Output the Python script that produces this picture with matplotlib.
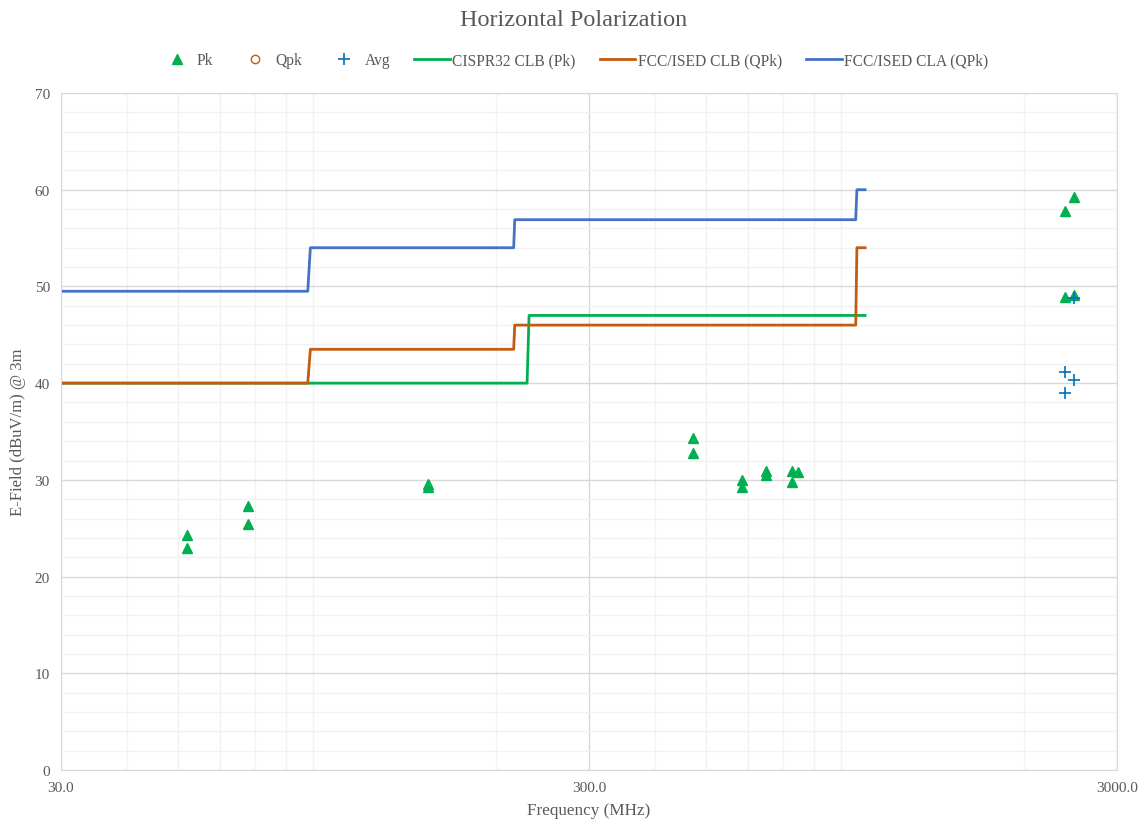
import numpy as np
import matplotlib
matplotlib.use("Agg")
import matplotlib.pyplot as plt
from matplotlib.ticker import FixedLocator, NullFormatter, MultipleLocator

plt.rcParams['font.family'] = ['Liberation Serif', 'DejaVu Serif']

# measured points
pk_freq = [51.9, 51.9, 67.7, 67.7, 148.9, 148.9, 471.6, 471.6, 583.8, 583.8,
           648.4, 648.4, 726, 726, 747, 2395, 2395, 2491, 2491]
pk_val = [24.3, 23.0, 27.3, 25.4, 29.6, 29.3, 34.3, 32.8, 30.0, 29.3,
          30.9, 30.5, 30.9, 29.8, 30.8, 57.8, 48.9, 59.2, 49.1]
qpk_freq = []
qpk_val = []
avg_freq = [2395, 2491, 2395, 2491]
avg_val = [41.2, 40.3, 39.0, 48.8]

# limit lines
cispr_freq = [30, 229, 231, 1000]
cispr_val = [40, 40, 47, 47]
fcc_b_freq = [30, 88, 89, 216, 217, 960, 965, 1000]
fcc_b_val = [40, 40, 43.5, 43.5, 46, 46, 54, 54]
fcc_a_freq = [30, 88, 89, 216, 217, 960, 965, 1000]
fcc_a_val = [49.5, 49.5, 54, 54, 56.9, 56.9, 60, 60]

green = "#00b050"
orange = "#c55a11"
blue = "#4472c4"
avg_blue = "#0070c0"
txt = "#595959"

fig = plt.figure(figsize=(11.47, 8.29), dpi=100)
ax = fig.add_axes([61/1147, 1 - 771/829, (1117-61)/1147, (771-94)/829])

ax.plot(pk_freq, pk_val, linestyle="none", marker="^", color=green, markersize=7, label="Pk")
ax.plot(qpk_freq, qpk_val, linestyle="none", marker="o", markerfacecolor="none",
        markeredgecolor=orange, markersize=6, label="Qpk")
ax.plot(avg_freq, avg_val, linestyle="none", marker="+", color=avg_blue, markersize=8,
        markeredgewidth=1.2, label="Avg")
ax.plot(cispr_freq, cispr_val, color=green, lw=2.0, label="CISPR32 CLB (Pk)")
ax.plot(fcc_b_freq, fcc_b_val, color=orange, lw=2.0, label="FCC/ISED CLB (QPk)")
ax.plot(fcc_a_freq, fcc_a_val, color=blue, lw=2.0, label="FCC/ISED CLA (QPk)")

ax.set_xscale("log")
ax.set_xlim(30, 3000)
ax.set_ylim(0, 70)
ax.xaxis.set_major_locator(FixedLocator([30, 300, 3000]))
ax.xaxis.set_major_formatter(plt.FuncFormatter(lambda v, p: f"{v:.1f}"))
minors = [m * d for d in (10, 100, 1000) for m in range(2, 10) if 30 < m * d < 3000 and m * d != 300]
ax.xaxis.set_minor_locator(FixedLocator(minors))
ax.xaxis.set_minor_formatter(NullFormatter())
ax.yaxis.set_major_locator(MultipleLocator(10))
ax.yaxis.set_minor_locator(MultipleLocator(2))

ax.grid(which="major", color="#d9d9d9", lw=1.0)
ax.grid(which="minor", color="#f2f2f2", lw=1.0)
ax.set_axisbelow(True)
for s in ax.spines.values():
    s.set_color("#d9d9d9")
ax.tick_params(which="both", length=0, colors=txt, labelsize=11, pad=8)

ax.set_xlabel("Frequency (MHz)", color=txt, fontsize=12.3, labelpad=6)
ax.set_ylabel("E-Field (dBuV/m) @ 3m", color=txt, fontsize=12, labelpad=6)
fig.text(0.5, 1 - 21/829, "Horizontal Polarization", ha="center", va="center",
         color=txt, fontsize=17.5)

leg = fig.legend(loc="center", bbox_to_anchor=(0.5, 1 - 61/829), ncol=6, frameon=False,
                 fontsize=11.2, handlelength=2.3, columnspacing=1.55, handletextpad=0.15)
for t in leg.get_texts():
    t.set_color(txt)

fig.savefig("out.png", dpi=100)
